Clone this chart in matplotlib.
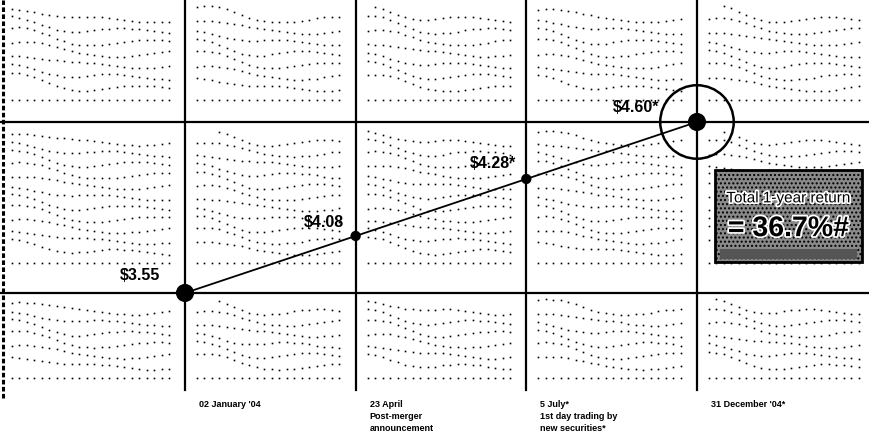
import numpy as np
import matplotlib.pyplot as plt
import matplotlib.patheffects as pe
from matplotlib.patches import Rectangle

# the four dates along the bottom and the price at each
events = ["02 January '04",
          "23 April\nPost-merger\nannouncement",
          "5 July*\n1st day trading by\nnew securities*",
          "31 December '04*"]
steps = [0, 1, 2, 3]
prices = ['$3.55', '$4.08', '$4.28*', '$4.60*']
total_return = '36.7%'

# label offsets (points) for the price tags
price_off = [(-18, 7), (-8.5, 4.5), (-7, 5.5), (-27, 5)]
fam = ['Liberation Sans', 'DejaVu Sans']

fig = plt.figure(figsize=(8.69, 4.48), dpi=100)
ax = fig.add_axes([0, 0, 1, 1])
x0, x1 = -1.084, 4.008
y0, y1 = -2.72, 5.14
ax.set_xlim(x0, x1)
ax.set_ylim(y0, y1)
ax.axis('off')

px_x = (x1 - x0) / 869.
px_y = (y1 - y0) / 448.
grid_bottom = -1.70

# dotted wave texture in each cell
col_edges = [x0, 0, 1, 2, 3, x1]
row_bands = [(3 + 22*px_y, y1 - 8*px_y, 8),
             (0 + 30*px_y, 3 - 10*px_y, 12),
             (grid_bottom + 12*px_y, 0 - 8*px_y, 7)]
for ci in range(len(col_edges) - 1):
    ca = col_edges[ci] + 12*px_x
    cb = col_edges[ci + 1] - 10*px_x
    xs = np.arange(ca, cb, 7.5*px_x)
    t = (xs - ca) / (cb - ca)
    for ri, (lo, hi, n) in enumerate(row_bands):
        gap = (hi - lo) / n
        for k in range(n):
            base = lo + k*gap
            ramp = np.clip(t / 0.45, 0, 1)
            drop = 0.5*(1 + np.cos(np.pi*ramp)) * 1.1*gap
            wig = 0.25*gap*np.sin(2*np.pi*(1.3*t + 0.23*k + 0.4*ci + 0.2*ri))
            yy = base + (drop + wig)*(k > 0)
            keep = (yy < hi + 0.2*gap) & (yy > lo - 0.2*gap)
            ax.plot(xs[keep], yy[keep], ls='none', marker='s', ms=1.2,
                    mew=0, color='black', zorder=1)

# frame lines
for s in steps:
    ax.axvline(s, ymin=(grid_bottom - y0)/(y1 - y0), ymax=1,
               color='black', lw=1.6, zorder=2)
ax.axhline(steps[0], color='black', lw=1.6, zorder=2)
ax.axhline(steps[-1], color='black', lw=1.6, zorder=2)
ax.axvline(x0 + 3*px_x, ymin=(grid_bottom - 0.15 - y0)/(y1 - y0), ymax=1,
           color='black', lw=2.2, ls=(0, (1.5, 0.8)), zorder=2)

# price path
ax.plot(steps, steps, color='black', lw=1.3, zorder=3)
sizes = [170, 55, 55, 170]
ax.scatter(steps, steps, s=sizes, color='black', zorder=4, linewidths=0)
ax.scatter(steps[-1:], steps[-1:], s=2800, facecolors='none',
           edgecolors='black', linewidths=1.8, zorder=4)

for s, p, off in zip(steps, prices, price_off):
    ax.annotate(p, (s, s), xytext=off, textcoords='offset points',
                ha='right', va='bottom', fontsize=11.5, fontweight='bold',
                family=fam, zorder=5)

label_y = -1.87
for s, e in zip(steps, events):
    ax.annotate(e, (s, label_y), xytext=(10, 0), textcoords='offset points',
                ha='left', va='top', fontsize=6.5, fontweight='bold',
                family=fam, linespacing=1.45)

# return box
bx, by, bw, bh = 3.105, 0.54, 0.861, 1.62
ax.add_patch(Rectangle((bx, by), bw, bh, facecolor='#8a8a8a',
                       edgecolor='black', lw=2, hatch='....', zorder=5))
ax.add_patch(Rectangle((bx + 0.03, by + 0.06), bw - 0.06, 0.17,
                       facecolor='#555555', edgecolor='none',
                       hatch='|||', zorder=5))
halo = [pe.withStroke(linewidth=2.5, foreground='white')]
ax.text(bx + bw/2, by + 1.12, 'Total 1-year return', ha='center',
        va='center', fontsize=11, family=fam, color='black',
        path_effects=halo, zorder=6)
ax.text(bx + bw/2, by + 0.58, '= ' + total_return + '#', ha='center',
        va='center', fontsize=20.5, fontweight='bold', family=fam,
        color='black', path_effects=halo, zorder=6)

fig.savefig('out.png', dpi=100, facecolor='white')
